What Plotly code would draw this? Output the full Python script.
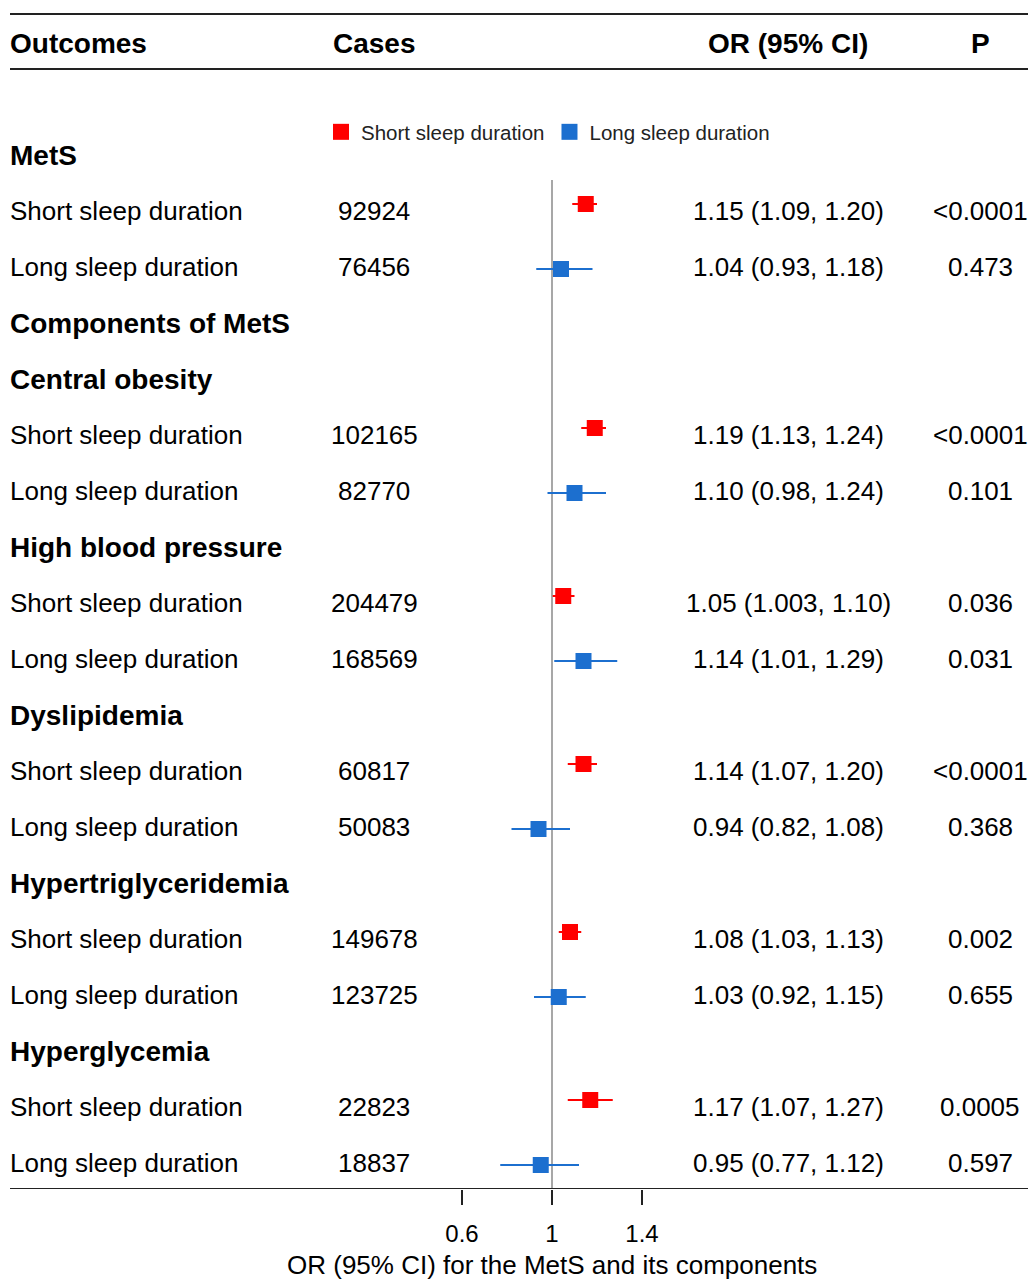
import plotly.graph_objects as go

# ---------------- data ----------------
groups = ["MetS", "Central obesity", "High blood pressure", "Dyslipidemia",
          "Hypertriglyceridemia", "Hyperglycemia"]
short_cases = ["92924", "102165", "204479", "60817", "149678", "22823"]
long_cases = ["76456", "82770", "168569", "50083", "123725", "18837"]

short_or = [1.15, 1.19, 1.05, 1.14, 1.08, 1.17]
short_lo = [1.09, 1.13, 1.003, 1.07, 1.03, 1.07]
short_hi = [1.20, 1.24, 1.10, 1.20, 1.13, 1.27]
short_ci_text = ["1.15 (1.09, 1.20)", "1.19 (1.13, 1.24)", "1.05 (1.003, 1.10)",
                 "1.14 (1.07, 1.20)", "1.08 (1.03, 1.13)", "1.17 (1.07, 1.27)"]
short_p = ["<0.0001", "<0.0001", "0.036", "<0.0001", "0.002", "0.0005"]

long_or = [1.04, 1.10, 1.14, 0.94, 1.03, 0.95]
long_lo = [0.93, 0.98, 1.01, 0.82, 0.92, 0.77]
long_hi = [1.18, 1.24, 1.29, 1.08, 1.15, 1.12]
long_ci_text = ["1.04 (0.93, 1.18)", "1.10 (0.98, 1.24)", "1.14 (1.01, 1.29)",
                "0.94 (0.82, 1.08)", "1.03 (0.92, 1.15)", "0.95 (0.77, 1.12)"]
long_p = ["0.473", "0.101", "0.031", "0.368", "0.655", "0.597"]

headers = ["Outcomes", "Cases", "OR (95% CI)", "P"]
tick_vals = [0.6, 1, 1.4]
tick_text = ["0.6", "1", "1.4"]
x_title = "OR (95% CI) for the MetS and its components"
short_label = "Short sleep duration"
long_label = "Long sleep duration"
components_label = "Components of MetS"

# ---------------- layout helpers ----------------
W, H = 1028, 1282
PLOT_BOTTOM = 1189           # pixel of x-axis baseline
ROW0, ROWH = 155, 56          # first row center and row height (px)
X1_PX, PX_PER_UNIT = 552, 225  # pixel of OR=1 and px per OR unit

def row_of(px):
    return (px - ROW0) / ROWH

def xpaper(px):
    return px / W

FONT = "Liberation Sans, Arial, sans-serif"
RED = "#FF0000"
BLUE = "#1C6FCF"

# build row structure
r = 0
label_rows = []
short_rows, long_rows = [], []
for gi, g in enumerate(groups):
    label_rows.append((g, r)); r += 1
    short_rows.append(r); r += 1
    long_rows.append(r); r += 1
    if gi == 0:
        label_rows.append((components_label, r)); r += 1

fig = go.Figure()

off_short = -7 / ROWH
off_long = 2 / ROWH

fig.add_trace(go.Scatter(
    x=short_or, y=[y + off_short for y in short_rows], mode="markers",
    name=short_label,
    marker=dict(symbol="square", size=16, color=RED),
    error_x=dict(type="data", symmetric=False,
                 array=[h - o for h, o in zip(short_hi, short_or)],
                 arrayminus=[o - l for o, l in zip(short_or, short_lo)],
                 color=RED, thickness=2, width=0),
))
fig.add_trace(go.Scatter(
    x=long_or, y=[y + off_long for y in long_rows], mode="markers",
    name=long_label,
    marker=dict(symbol="square", size=16, color=BLUE),
    error_x=dict(type="data", symmetric=False,
                 array=[h - o for h, o in zip(long_hi, long_or)],
                 arrayminus=[o - l for o, l in zip(long_or, long_lo)],
                 color=BLUE, thickness=2, width=0),
))

ann = []
REG = 26
BOLD = 28
col_x = [8, 374, 788, 980]

# headers
for i, h in enumerate(headers):
    ann.append(dict(x=xpaper(col_x[i]), y=row_of(43), xref="paper", yref="y",
                    text=f"<b>{h}</b>", showarrow=False,
                    xanchor="left" if i == 0 else "center", yanchor="middle",
                    font=dict(family=FONT, size=BOLD, color="black")))
for lab, rr in label_rows:
    ann.append(dict(x=xpaper(col_x[0]), y=rr, xref="paper", yref="y",
                    text=f"<b>{lab}</b>", showarrow=False,
                    xanchor="left", yanchor="middle",
                    font=dict(family=FONT, size=BOLD, color="black")))

def add_row(rr, label, cases, ci, p):
    vals = [label, cases, ci, p]
    for i, v in enumerate(vals):
        ann.append(dict(x=xpaper(col_x[i]), y=rr, xref="paper", yref="y",
                        text=v, showarrow=False,
                        xanchor="left" if i == 0 else "center", yanchor="middle",
                        font=dict(family=FONT, size=REG, color="black")))

for gi in range(len(groups)):
    add_row(short_rows[gi], short_label, short_cases[gi], short_ci_text[gi], short_p[gi])
    add_row(long_rows[gi], long_label, long_cases[gi], long_ci_text[gi], long_p[gi])

# axis title (below the plotting area, paper-referenced vertically)
ann.append(dict(x=1, y=(PLOT_BOTTOM - 1265) / PLOT_BOTTOM, xref="x", yref="paper",
                text=x_title, showarrow=False, xanchor="center", yanchor="middle",
                borderpad=0,
                font=dict(family=FONT, size=26, color="black")))

shapes = []
for ypx in (14, 69, PLOT_BOTTOM):
    shapes.append(dict(type="line", xref="paper", yref="y",
                       x0=xpaper(10), x1=1, y0=row_of(ypx), y1=row_of(ypx),
                       line=dict(color="#222222", width=2)))
shapes.append(dict(type="line", xref="x", yref="y", x0=1, x1=1,
                   y0=row_of(180), y1=row_of(PLOT_BOTTOM),
                   line=dict(color="#8a8a8a", width=1.5), layer="below"))

x0 = 1 - X1_PX / PX_PER_UNIT
x1 = 1 + (W - X1_PX) / PX_PER_UNIT

fig.update_layout(
    width=W, height=H,
    margin=dict(l=0, r=0, t=0, b=H - PLOT_BOTTOM, pad=0),
    paper_bgcolor="white", plot_bgcolor="white",
    showlegend=True,
    legend=dict(orientation="h", x=xpaper(321), y=1 - 132 / PLOT_BOTTOM,
                xanchor="left", yanchor="middle", bgcolor="rgba(0,0,0,0)",
                font=dict(family=FONT, size=20.5, color="#222222"),
                itemclick=False, itemdoubleclick=False),
    annotations=ann, shapes=shapes,
    xaxis=dict(range=[x0, x1], showgrid=False, zeroline=False, showline=False,
               tickvals=tick_vals, ticktext=tick_text, ticks="outside",
               ticklen=15, tickwidth=1.5, tickcolor="#222222",
               ticklabelstandoff=8,
               tickfont=dict(family=FONT, size=24, color="black"),
               fixedrange=True),
    yaxis=dict(range=[row_of(PLOT_BOTTOM), row_of(0)], visible=False,
               showgrid=False, zeroline=False, fixedrange=True),
)

fig.write_html("out.html",
               config={"displayModeBar": False},
               post_script="document.body.style.margin='0';"
                           "document.body.style.overflow='hidden';")
